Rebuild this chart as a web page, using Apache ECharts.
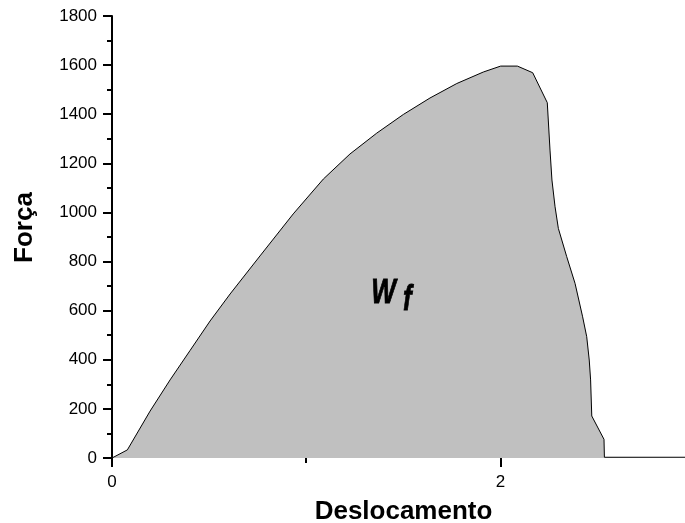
<!DOCTYPE html>
<html>
<head>
<meta charset="utf-8">
<title>Força x Deslocamento</title>
<script src="https://cdn.jsdelivr.net/npm/echarts@6/dist/echarts.min.js"></script>
<style>
  html, body { margin: 0; padding: 0; background: #fff; }
  #chart { width: 685px; height: 523px; }
</style>
</head>
<body>
<div id="chart"></div>
<script>
// Load-displacement curve; the shaded area under it is the fracture work W_f
const deslocamento = [
  0, 0.079, 0.196, 0.299, 0.402, 0.505, 0.608, 0.762, 0.933, 1.088,
  1.225, 1.363, 1.500, 1.637, 1.775, 1.912, 2.001, 2.087, 2.166, 2.241,
  2.255, 2.265, 2.281, 2.298, 2.341, 2.384, 2.423, 2.444, 2.457, 2.464,
  2.470, 2.533, 2.535, 2.95
];
const forca = [
  0, 33, 191, 318, 438, 558, 668, 823, 994, 1136,
  1238, 1323, 1399, 1466, 1525, 1572, 1596, 1596, 1569, 1447,
  1254, 1132, 1023, 935, 820, 711, 575, 494, 399, 318,
  171, 76, 3, 3
];
const yTicks = [0, 200, 400, 600, 800, 1000, 1200, 1400, 1600, 1800];
const xMajorTicks = [0, 2];
const xMinorTicks = [1];

const FONT = "'Liberation Sans', Arial, Helvetica, sans-serif";
const curve = deslocamento.map((x, i) => [x, forca[i]]);

const chart = echarts.init(document.getElementById('chart'), null, { renderer: 'canvas' });

const option = {
  animation: false,
  backgroundColor: '#ffffff',
  grid: { left: 112, right: 0, top: 16, bottom: 65, outerBoundsMode: 'none', containLabel: false },
  xAxis: [
    {
      type: 'value',
      min: 0,
      max: 2.95,
      position: 'bottom',
      name: 'Deslocamento',
      nameLocation: 'middle',
      nameGap: 41,
      nameTextStyle: {
        fontFamily: FONT, fontSize: 26, fontWeight: 'bold', color: '#000',
        padding: [0, 0, 0, 10]
      },
      axisLine: { show: false },
      axisTick: { show: true, customValues: xMajorTicks, length: 9, lineStyle: { color: '#000', width: 2 } },
      axisLabel: { customValues: xMajorTicks, margin: 16, fontFamily: FONT, fontSize: 17, color: '#000' },
      splitLine: { show: false }
    },
    {
      type: 'value',
      min: 0,
      max: 2.95,
      position: 'bottom',
      axisLine: { show: false },
      axisTick: { show: true, customValues: xMinorTicks, length: 5, lineStyle: { color: '#000', width: 2 } },
      axisLabel: { show: false },
      splitLine: { show: false }
    }
  ],
  yAxis: {
    type: 'value',
    min: 0,
    max: 1800,
    interval: 200,
    name: 'Força',
    nameLocation: 'middle',
    nameGap: 74,
    nameTextStyle: { fontFamily: FONT, fontSize: 26, fontWeight: 'bold', color: '#000', padding: [0, 0, 0, 19] },
    axisLine: { show: true, lineStyle: { color: '#000', width: 2 } },
    axisTick: { show: true, length: 9, lineStyle: { color: '#000', width: 2 } },
    minorTick: { show: true, splitNumber: 2, length: 5, lineStyle: { color: '#000', width: 2 } },
    axisLabel: {
      margin: 15, fontFamily: FONT, fontSize: 17, color: '#000',
      formatter: v => (yTicks.includes(v) ? String(v) : '')
    },
    splitLine: { show: false }
  },
  series: [
    {
      type: 'line',
      xAxisIndex: 0,
      data: curve,
      showSymbol: false,
      symbol: 'none',
      smooth: false,
      lineStyle: { color: '#000', width: 1 },
      areaStyle: { color: '#c0c0c0', opacity: 1 },
      z: 2
    }
  ]
};

chart.setOption(option);

// W_f annotation placed in data coordinates inside the shaded area (tall, condensed lettering)
const wPos = chart.convertToPixel({ gridIndex: 0 }, [1.398, 672]);
const fPos = chart.convertToPixel({ gridIndex: 0 }, [1.521, 640]);
chart.setOption({
  graphic: [
    {
      type: 'text', x: wPos[0], y: wPos[1], scaleY: 1.34, z: 10,
      style: {
        text: 'W', fontFamily: FONT, fontSize: 26, fontWeight: 'bold', fontStyle: 'italic',
        fill: '#000', stroke: '#000', lineWidth: 0.6, align: 'center', verticalAlign: 'middle'
      }
    },
    {
      type: 'text', x: fPos[0], y: fPos[1], scaleY: 1.34, z: 10,
      style: {
        text: 'f', fontFamily: FONT, fontSize: 26, fontWeight: 'bold', fontStyle: 'italic',
        fill: '#000', stroke: '#000', lineWidth: 0.6, align: 'center', verticalAlign: 'middle'
      }
    }
  ]
});
</script>
</body>
</html>
